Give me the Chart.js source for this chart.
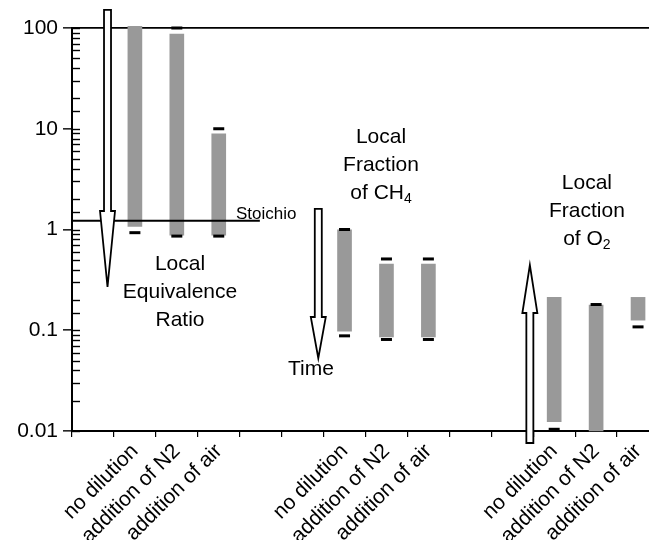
<!DOCTYPE html>
<html><head><meta charset="utf-8">
<script src="https://cdn.jsdelivr.net/npm/chart.js@4.4.0/dist/chart.umd.min.js"></script>
<style>
html,body{margin:0;padding:0;overflow:hidden;background:#fff;}
#wrap{width:700px;height:540px;position:relative;}
</style></head><body>
<div id="wrap"><canvas id="c"></canvas></div>
<script>
// ---- data ----
const categories = ['', 'no dilution', 'addition of N2', 'addition of air', '', '',
  'no dilution', 'addition of N2', 'addition of air', '', '',
  'no dilution', 'addition of N2', 'addition of air'];
const barLow   = [null, 1.07, 0.88, 0.88, null, null, 0.098, 0.086, 0.086, null, null, 0.0124, 0.01, 0.126];
const barHigh  = [null, 104, 87, 8.9, null, null, 0.99, 0.455, 0.455, null, null, 0.212, 0.178, 0.212];
const maxMarks = [null, null, 100, 10, null, null, 1.0, 0.51, 0.51, null, null, null, 0.18, null];
const minMarks = [null, 0.93, 0.86, 0.86, null, null, 0.088, 0.081, 0.081, null, null, 0.0104, null, 0.108];
const yTickLabels = {'-2': '0.01', '-1': '0.1', '0': '1', '1': '10', '2': '100'};
const stoichioValue = 1.22;
const stoichioSpan = [-0.5, 3.98];
// arrows: position (category index), start value, head-start value, tip value
const arrows = [
  {x: 0.347, from: 151, head: 1.526, to: 0.27},
  {x: 5.374, from: 1.60, head: 0.1353, to: 0.0527},
  {x: 10.42, from: 0.0076, head: 0.1483, to: 0.4443}
];
// text notes: position (category index, value of first baseline)
const notes = [
  {x: 2.076, y: 0.396, lines: [['Local'], ['Equivalence'], ['Ratio']]},
  {x: 6.87, y: 7.27, lines: [['Local'], ['Fraction'], ['of CH', '4']]},
  {x: 11.78, y: 2.506, lines: [['Local'], ['Fraction'], ['of O', '2']]},
  {x: 5.20, y: 0.036, lines: [['Time']]},
  {x: 3.41, y: 1.27, lines: [['Stoichio']], size: 17, align: 'left'}
];

const FONT = '"Liberation Sans", Arial, Helvetica, sans-serif';
const isPow10 = v => Math.abs(Math.log10(v) - Math.round(Math.log10(v))) < 1e-6;

const annot = {
  id: 'annot',
  afterDatasetsDraw(chart) {
    const {ctx, scales: {x, y}} = chart;
    ctx.save();
    ctx.strokeStyle = '#000'; ctx.lineWidth = 2;
    const sy = y.getPixelForValue(stoichioValue);
    ctx.beginPath(); ctx.moveTo(x.getPixelForValue(stoichioSpan[0]), sy); ctx.lineTo(x.getPixelForValue(stoichioSpan[1]), sy); ctx.stroke();
    ctx.restore();
  },
  afterDraw(chart) {
    const {ctx, chartArea, scales: {x, y}} = chart;
    ctx.save();
    ctx.strokeStyle = '#000'; ctx.lineWidth = 1.4;
    y.ticks.forEach(t => {
      const py = Math.round(y.getPixelForValue(t.value)) + 0.5;
      ctx.beginPath(); ctx.moveTo(chartArea.left, py); ctx.lineTo(chartArea.left + 8, py); ctx.stroke();
    });
    ctx.fillStyle = '#000'; ctx.textBaseline = 'alphabetic'; ctx.textAlign = 'left';
    notes.forEach(n => {
      const size = n.size || 21;
      const cx = x.getPixelForValue(n.x);
      let by = y.getPixelForValue(n.y);
      n.lines.forEach(([main, sub]) => {
        ctx.font = size + 'px ' + FONT;
        const wm = ctx.measureText(main).width;
        let ws = 0;
        if (sub) { ctx.font = '14px ' + FONT; ws = ctx.measureText(sub).width; }
        const x0 = n.align === 'left' ? cx : cx - (wm + ws) / 2;
        ctx.font = size + 'px ' + FONT;
        ctx.fillText(main, x0, by);
        if (sub) { ctx.font = '14px ' + FONT; ctx.fillText(sub, x0 + wm, by + 4); }
        by += 28;
      });
    });
    arrows.forEach(a => {
      const px = x.getPixelForValue(a.x), y0 = y.getPixelForValue(a.from),
            yh = y.getPixelForValue(a.head), y1 = y.getPixelForValue(a.to);
      const sw = 3.5, hw = 7.5;
      ctx.beginPath();
      ctx.moveTo(px - sw, y0); ctx.lineTo(px + sw, y0); ctx.lineTo(px + sw, yh); ctx.lineTo(px + hw, yh);
      ctx.lineTo(px, y1); ctx.lineTo(px - hw, yh); ctx.lineTo(px - sw, yh); ctx.closePath();
      ctx.fillStyle = '#fff'; ctx.fill();
      ctx.lineWidth = 1.8; ctx.strokeStyle = '#000'; ctx.lineJoin = 'miter'; ctx.stroke();
    });
    ctx.restore();
  }
};

const markerStyle = {type: 'line', showLine: false, pointStyle: 'line', pointRadius: 5.5, pointHoverRadius: 5.5,
  pointBorderWidth: 3, borderColor: '#000', pointBorderColor: '#000', backgroundColor: '#000', clip: false};

new Chart(document.getElementById('c'), {
  type: 'bar',
  data: {
    labels: categories,
    datasets: [
      {type: 'bar', data: barLow.map((v, i) => v == null ? null : [v, barHigh[i]]), backgroundColor: '#999999',
       borderWidth: 0, barThickness: 14, clip: false, order: 3},
      Object.assign({data: maxMarks, order: 1}, markerStyle),
      Object.assign({data: minMarks, order: 1}, markerStyle)
    ]
  },
  options: {
    responsive: true, maintainAspectRatio: false, animation: false,
    layout: {padding: {top: 28, right: 41, left: 0, bottom: 0}},
    plugins: {legend: {display: false}, tooltip: {enabled: false}},
    scales: {
      x: {type: 'category', offset: true,
          grid: {offset: true, drawOnChartArea: false, tickLength: 6, color: '#000', lineWidth: 1.2},
          border: {color: '#000', width: 2},
          ticks: {autoSkip: false, minRotation: 45, maxRotation: 45, color: '#000', padding: 2,
                  font: {family: FONT, size: 21}},
          afterFit(s) { s.height = 109; }},
      y: {type: 'logarithmic', min: 0.01, max: 100,
          grid: {drawOnChartArea: true, tickLength: 9,
                 color: c => (c.tick && Math.abs(c.tick.value - 100) < 1e-6) ? '#000' : 'rgba(0,0,0,0)',
                 tickColor: c => (c.tick && isPow10(c.tick.value)) ? '#000' : 'rgba(0,0,0,0)',
                 lineWidth: 1.7, tickWidth: 1.4},
          border: {color: '#000', width: 2},
          ticks: {autoSkip: false, color: '#000', padding: 5, font: {family: FONT, size: 21},
                  callback: v => isPow10(v) ? yTickLabels[String(Math.round(Math.log10(v)))] : ''},
          afterFit(s) { s.width = 72; }}
    }
  },
  plugins: [annot]
});
</script>
</body></html>
